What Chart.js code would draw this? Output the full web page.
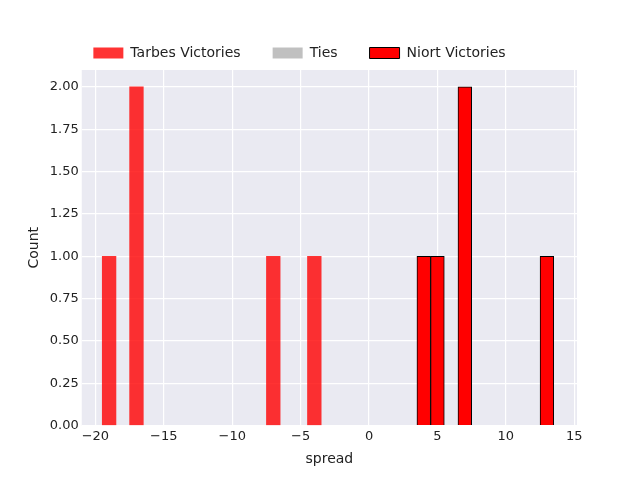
<!DOCTYPE html>
<html>
<head>
<meta charset="utf-8">
<script src="https://cdn.jsdelivr.net/npm/chart.js@4"></script>
<style>
  body { margin: 0; background: #fff; }
  canvas { display: block; }
</style>
</head>
<body>
<canvas id="chart" width="640" height="480"></canvas>
<script>
// Histogram of spreads (bin centres) and counts
const tarbesSpread = [-19, -17, -7, -4];
const tarbesCount = [1, 2, 1, 1];
const niortSpread = [4, 5, 7, 13];
const niortCount = [1, 1, 2, 1];
const xTicks = [-20, -15, -10, -5, 0, 5, 10, 15];

const toPoints = (xs, ys) => xs.map((x, i) => ({ x: x, y: ys[i] }));

// paint the seaborn-style plot background
const plotBackground = {
    id: 'plotBackground',
    beforeDraw(chart) {
        const { ctx, chartArea: a } = chart;
        ctx.save();
        ctx.fillStyle = '#eaeaf2';
        ctx.fillRect(a.left, a.top, a.right - a.left, a.bottom - a.top);
        ctx.restore();
    }
};

const font = { family: "'DejaVu Sans', sans-serif", size: 13 };

new Chart(document.getElementById('chart').getContext('2d'), {
    type: 'bar',
    data: {
        datasets: [{
            label: 'Tarbes Victories',
            data: toPoints(tarbesSpread, tarbesCount),
            backgroundColor: 'rgba(255, 0, 0, 0.8)',
            borderWidth: 0,
            grouped: false
        }, {
            label: 'Ties',
            data: [],
            backgroundColor: '#c0c0c0',
            borderWidth: 0,
            grouped: false
        }, {
            label: 'Niort Victories',
            data: toPoints(niortSpread, niortCount),
            backgroundColor: '#ff0000',
            borderColor: '#000000',
            borderWidth: 1,
            grouped: false
        }]
    },
    options: {
        responsive: false,
        animation: false,
        barPercentage: 1,
        categoryPercentage: 1,
        layout: { padding: { left: 22, right: 63, top: 14, bottom: 8 } },
        plugins: {
            legend: {
                position: 'top',
                labels: { font: { ...font, size: 14 }, color: '#222', boxWidth: 30, boxHeight: 11, padding: 32 }
            },
            tooltip: { enabled: false }
        },
        scales: {
            x: {
                type: 'linear',
                offset: false,
                min: -21,
                max: 15.2,
                afterBuildTicks: (axis) => { axis.ticks = xTicks.map(v => ({ value: v })); },
                ticks: { font: font, color: '#222', callback: v => String(v).replace('-', '\u2212') },
                grid: { color: '#ffffff', lineWidth: 1.2, drawTicks: false, offset: false },
                border: { display: false },
                title: { display: true, text: 'spread', font: { ...font, size: 14 }, color: '#222' }
            },
            y: {
                min: 0,
                max: 2.1,
                afterBuildTicks: (axis) => {
                    axis.ticks = [0, 0.25, 0.5, 0.75, 1, 1.25, 1.5, 1.75, 2].map(v => ({ value: v }));
                },
                ticks: { font: font, color: '#222', callback: v => v.toFixed(2) },
                grid: { color: '#ffffff', lineWidth: 1.2, drawTicks: false },
                border: { display: false },
                title: { display: true, text: 'Count', font: { ...font, size: 14 }, color: '#222' }
            }
        }
    },
    plugins: [plotBackground]
});
</script>
</body>
</html>
